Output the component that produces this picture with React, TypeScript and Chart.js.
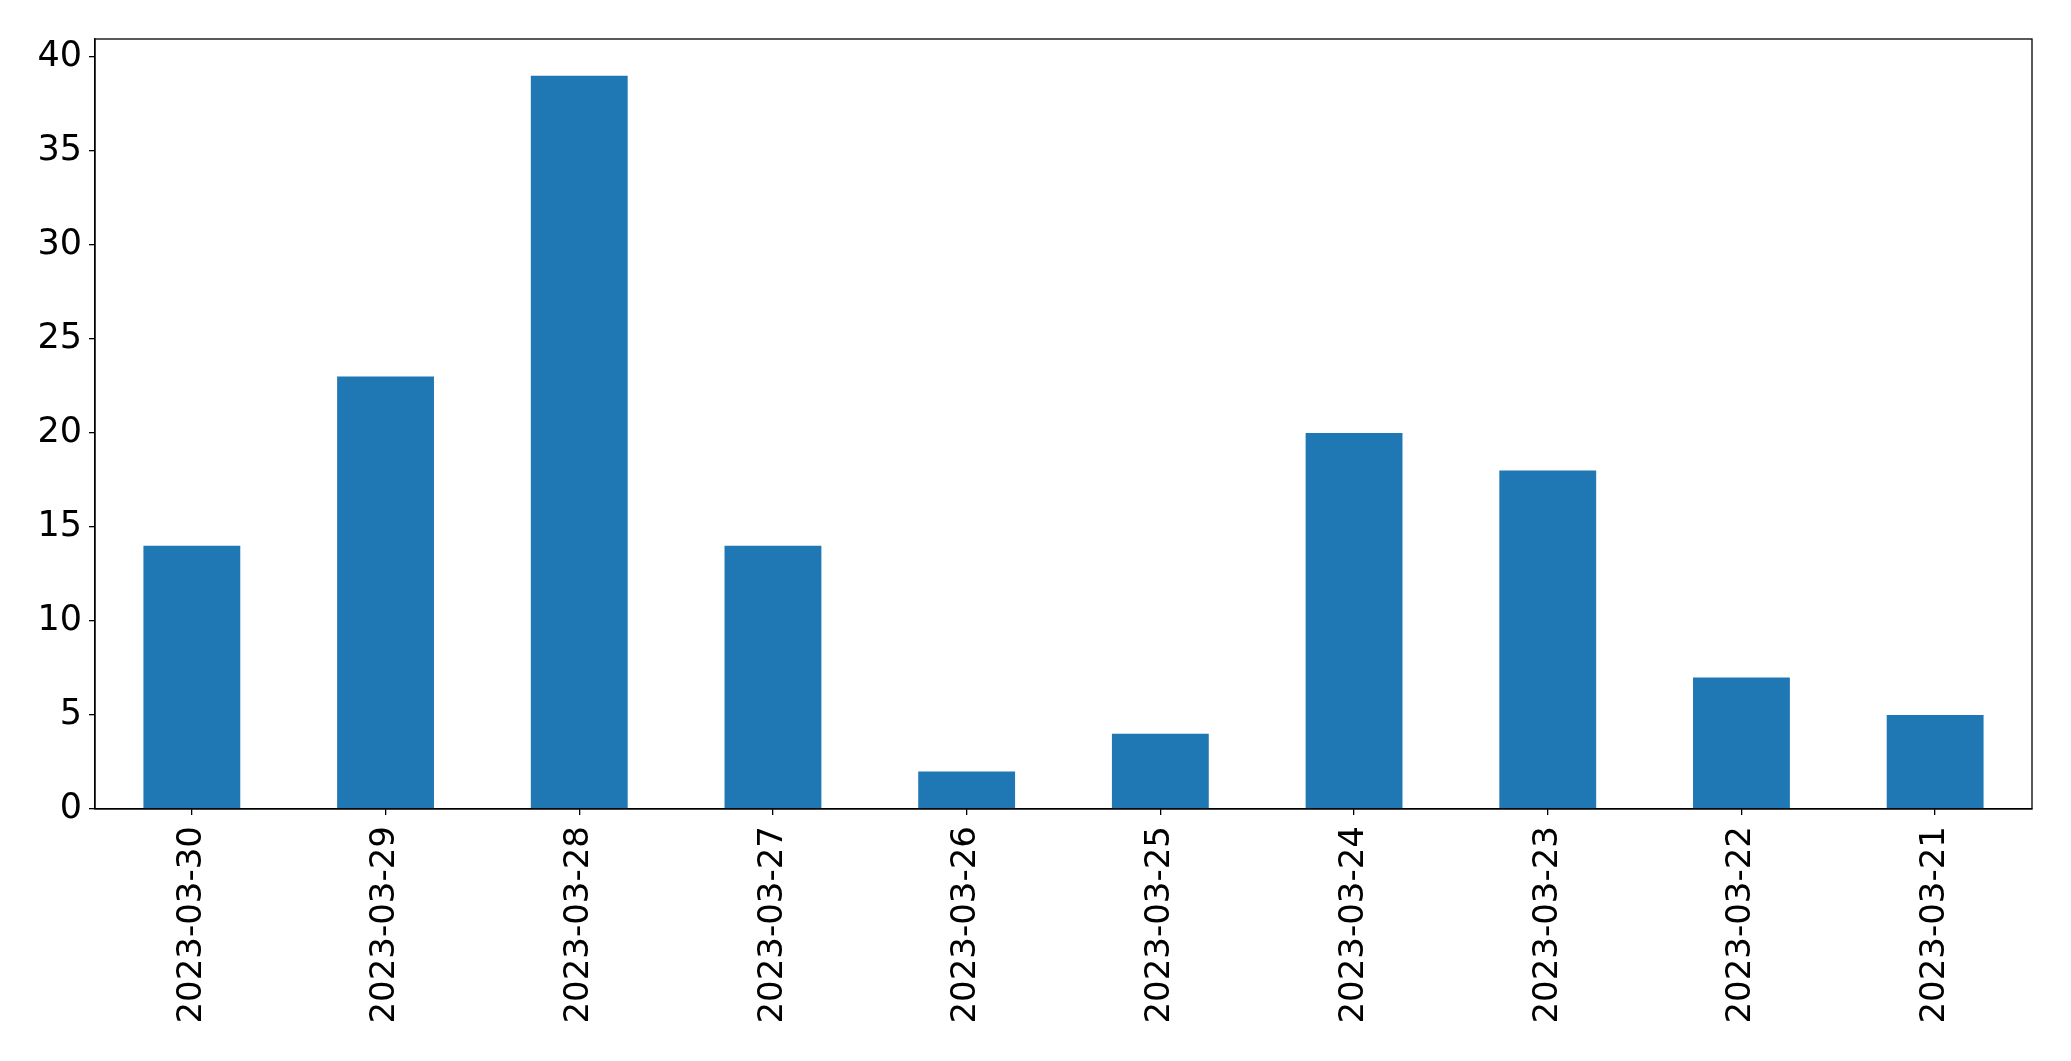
import React, { useEffect, useRef } from "react";
import { Chart, registerables } from "chart.js";

Chart.register(...registerables);

const categories = [
  "2023-03-30",
  "2023-03-29",
  "2023-03-28",
  "2023-03-27",
  "2023-03-26",
  "2023-03-25",
  "2023-03-24",
  "2023-03-23",
  "2023-03-22",
  "2023-03-21",
];
const values = [14, 23, 39, 14, 2, 4, 20, 18, 7, 5];
const yTicks = [0, 5, 10, 15, 20, 25, 30, 35, 40];
const yMax = 40.95;

const FONT = "'DejaVu Sans', sans-serif";

const framePlugin = {
  id: "frame",
  afterDraw(chart: any) {
    const { ctx, chartArea } = chart;
    ctx.save();
    ctx.strokeStyle = "#000";
    ctx.lineWidth = 1.3;
    ctx.strokeRect(chartArea.left, chartArea.top, chartArea.right - chartArea.left, chartArea.bottom - chartArea.top);
    ctx.restore();
  },
};

export default function App() {
  const ref = useRef<HTMLCanvasElement | null>(null);
  useEffect(() => {
    if (!ref.current) return;
    const chart = new Chart(ref.current, {
      type: "bar",
      data: {
        labels: categories,
        datasets: [
          {
            data: values,
            backgroundColor: "#1f77b4",
            borderWidth: 0,
            barPercentage: 0.5,
            categoryPercentage: 1.0,
          },
        ],
      },
      options: {
        animation: false,
        responsive: false,
        maintainAspectRatio: false,
        layout: { padding: { left: 0, right: 39, top: 39, bottom: 0 } },
        plugins: { legend: { display: false }, tooltip: { enabled: false } },
        scales: {
          x: {
            offset: true,
            grid: {
              display: true,
              offset: false,
              drawOnChartArea: false,
              drawTicks: true,
              tickLength: 6,
              color: "#000",
              lineWidth: 1.3,
            },
            border: { display: true, color: "#000", width: 1.3 },
            ticks: {
              maxRotation: 90,
              minRotation: 90,
              autoSkip: false,
              padding: 11,
              color: "#000",
              font: { family: FONT, size: 34 },
            },
            afterFit(scale: any) {
              scale.height = 252;
            },
          },
          y: {
            min: 0,
            max: yMax,
            grid: {
              display: true,
              drawOnChartArea: false,
              drawTicks: true,
              tickLength: 6,
              color: "#000",
              lineWidth: 1.3,
            },
            border: { display: true, color: "#000", width: 1.3 },
            ticks: {
              padding: 7,
              color: "#000",
              font: { family: FONT, size: 35 },
            },
            afterBuildTicks(scale: any) {
              scale.ticks = yTicks.map((v) => ({ value: v }));
            },
            afterFit(scale: any) {
              scale.width = 95;
            },
          },
        },
      },
      plugins: [framePlugin],
    });
    return () => chart.destroy();
  }, []);
  return (
    <div style={{ position: "fixed", left: 0, top: 0, width: 2071, height: 1061, background: "#fff" }}>
      <canvas ref={ref} width={2071} height={1061} style={{ display: "block" }} />
    </div>
  );
}
